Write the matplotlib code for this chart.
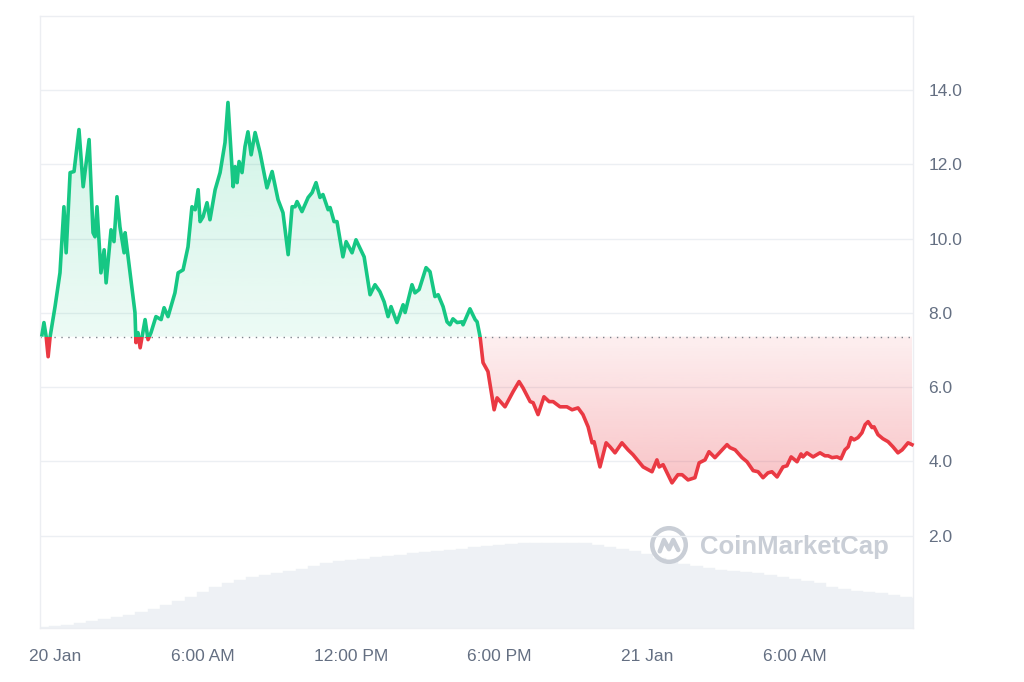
import numpy as np
import matplotlib.pyplot as plt
from matplotlib.path import Path
from matplotlib.patches import PathPatch, Rectangle, Circle

# hours since 20 Jan 00:00
hours = [-0.53, -0.45, -0.36, -0.28, -0.20, 0.00, 0.20, 0.36, 0.45, 0.61,
         0.77, 0.97, 1.14, 1.38, 1.54, 1.62, 1.70, 1.86, 1.99, 2.07,
         2.27, 2.39, 2.51, 2.63, 2.80, 2.84, 3.24, 3.28, 3.36, 3.45,
         3.65, 3.77, 3.89, 4.09, 4.30, 4.42, 4.58, 4.86, 4.99, 5.19,
         5.39, 5.55, 5.68, 5.80, 5.88, 6.00, 6.16, 6.28, 6.49, 6.69,
         6.89, 7.01, 7.22, 7.30, 7.38, 7.46, 7.58, 7.70, 7.82, 7.95,
         8.11, 8.31, 8.59, 8.80, 9.04, 9.24, 9.45, 9.61, 9.73, 9.81,
         10.01, 10.26, 10.42, 10.58, 10.74, 10.86, 11.07, 11.15, 11.31, 11.43,
         11.67, 11.80, 12.04, 12.20, 12.45, 12.53, 12.77, 12.97, 13.17, 13.34,
         13.50, 13.62, 13.86, 14.11, 14.19, 14.47, 14.59, 14.76, 15.04, 15.20,
         15.40, 15.53, 15.73, 15.89, 16.01, 16.13, 16.30, 16.50, 16.54, 16.82,
         17.03, 17.11, 17.23, 17.35, 17.55, 17.80, 17.92, 18.24, 18.57, 18.81,
         18.97, 19.26, 19.38, 19.58, 19.82, 20.03, 20.19, 20.47, 20.75, 20.96,
         21.20, 21.40, 21.61, 21.77, 21.85, 22.09, 22.34, 22.50, 22.70, 22.98,
         23.23, 23.43, 23.84, 24.20, 24.40, 24.49, 24.65, 25.01, 25.25, 25.42,
         25.66, 25.94, 26.11, 26.35, 26.51, 26.75, 27.24, 27.36, 27.57, 27.85,
         28.05, 28.30, 28.50, 28.70, 28.90, 29.06, 29.27, 29.51, 29.67, 29.84,
         30.08, 30.24, 30.32, 30.48, 30.73, 31.01, 31.21, 31.34, 31.50, 31.70,
         31.86, 32.02, 32.15, 32.27, 32.39, 32.55, 32.71, 32.84, 32.96, 33.12,
         33.20, 33.36, 33.56, 33.77, 33.97, 34.17, 34.34, 34.58, 34.74]

price = [7.41, 7.74, 7.36, 6.82, 7.36, 8.17, 9.08, 10.86, 9.62, 11.78,
         11.81, 12.94, 11.40, 12.67, 10.16, 10.05, 10.86, 9.08, 9.70, 8.81,
         10.24, 9.92, 11.13, 10.32, 9.62, 10.16, 8.01, 7.20, 7.47, 7.06,
         7.82, 7.28, 7.47, 7.90, 7.82, 8.14, 7.90, 8.54, 9.08, 9.16,
         9.78, 10.86, 10.78, 11.32, 10.46, 10.59, 10.97, 10.51, 11.32, 11.78,
         12.59, 13.67, 11.40, 11.94, 11.51, 12.08, 11.78, 12.48, 12.88, 12.26,
         12.86, 12.32, 11.37, 11.81, 11.05, 10.70, 9.57, 10.86, 10.86, 11.00,
         10.73, 11.11, 11.24, 11.51, 11.11, 11.19, 10.78, 10.84, 10.46, 10.46,
         9.51, 9.92, 9.62, 9.97, 9.62, 9.51, 8.49, 8.76, 8.57, 8.30,
         7.90, 8.17, 7.74, 8.22, 8.01, 8.76, 8.54, 8.63, 9.22, 9.11,
         8.44, 8.49, 8.17, 7.76, 7.68, 7.84, 7.74, 7.76, 7.68, 8.11,
         7.82, 7.76, 7.36, 6.66, 6.42, 5.39, 5.71, 5.47, 5.88, 6.15,
         5.98, 5.61, 5.58, 5.26, 5.74, 5.61, 5.61, 5.47, 5.47, 5.39,
         5.44, 5.26, 4.93, 4.50, 4.53, 3.85, 4.50, 4.39, 4.23, 4.50,
         4.31, 4.18, 3.85, 3.72, 4.04, 3.85, 3.91, 3.42, 3.64, 3.64,
         3.50, 3.56, 3.96, 4.04, 4.26, 4.10, 4.45, 4.37, 4.31, 4.10,
         3.99, 3.75, 3.72, 3.56, 3.69, 3.72, 3.58, 3.85, 3.88, 4.12,
         3.99, 4.20, 4.12, 4.23, 4.12, 4.23, 4.15, 4.15, 4.10, 4.12,
         4.07, 4.31, 4.39, 4.64, 4.58, 4.64, 4.77, 4.99, 5.07, 4.91,
         4.93, 4.72, 4.61, 4.53, 4.39, 4.23, 4.31, 4.50, 4.45]

base_price = 7.36

# half-hourly volume (relative units)
vol_hours = [-0.5, 0.0, 0.5, 1.0, 1.5, 2.0, 2.5, 3.0, 3.5, 4.0, 4.5, 5.0,
             5.5, 6.0, 6.5, 7.0, 7.5, 8.0, 8.5, 9.0, 9.5, 10.0, 10.5, 11.0,
             11.5, 12.0, 12.5, 13.0, 13.5, 14.0, 14.5, 15.0, 15.5, 16.0, 16.5, 17.0,
             17.5, 18.0, 18.5, 19.0, 19.5, 20.0, 20.5, 21.0, 21.5, 22.0, 22.5, 23.0,
             23.5, 24.0, 24.5, 25.0, 25.5, 26.0, 26.5, 27.0, 27.5, 28.0, 28.5, 29.0,
             29.5, 30.0, 30.5, 31.0, 31.5, 32.0, 32.5, 33.0, 33.5, 34.0, 34.5, 35.0]
volume = [1, 2, 3, 5, 7, 9, 11, 13, 16, 19, 23, 27,
          31, 36, 41, 45, 48, 51, 53, 55, 57, 59, 62, 65,
          67, 68, 69, 71, 72, 73, 75, 76, 77, 78, 79, 81,
          82, 83, 84, 85, 85, 85, 85, 85, 85, 83, 81, 79,
          77, 74, 70, 67, 64, 62, 60, 58, 57, 56, 55, 53,
          51, 49, 47, 45, 41, 39, 37, 36, 35, 33, 31, 30]

tick_hours = [0, 6, 12, 18, 24, 30]
tick_labels = ['20 Jan', '6:00 AM', '12:00 PM', '6:00 PM', '21 Jan', '6:00 AM']
y_ticks = [2, 4, 6, 8, 10, 12, 14]

GREEN = '#16c784'
RED = '#ea3943'
TXT = '#646f82'


def gradient(color, a_top, a_bottom, n=256):
    rgba = np.zeros((n, 1, 4))
    c = plt.matplotlib.colors.to_rgb(color)
    rgba[:, 0, 0] = c[0]
    rgba[:, 0, 1] = c[1]
    rgba[:, 0, 2] = c[2]
    rgba[:, 0, 3] = np.linspace(a_top, a_bottom, n)
    return rgba


def main():
    plt.rcParams['font.family'] = ['Liberation Sans', 'DejaVu Sans']
    fig = plt.figure(figsize=(10.24, 6.82), dpi=100)
    ax = fig.add_axes([40/1024, 1-628/682, 873/1024, 612/682])
    axv = ax.twinx()
    ax.set_zorder(axv.get_zorder() + 1)
    ax.patch.set_visible(False)

    # volume
    axv.bar(vol_hours, volume, width=0.5, color='#eef1f5', edgecolor='#eef1f5', linewidth=0.3)
    axv.set_ylim(0, 612)
    axv.set_yticks([])
    for s in axv.spines.values():
        s.set_visible(False)

    t = np.array(hours)
    p = np.array(price)
    x0, x1 = -0.61, 34.78

    # gradient fills
    g = ax.fill_between(t, p, base_price, where=p >= base_price, interpolate=True,
                        facecolor='none', edgecolor='none')
    r = ax.fill_between(t, p, base_price, where=p <= base_price, interpolate=True,
                        facecolor='none', edgecolor='none')
    gpatch = PathPatch(Path.make_compound_path(*g.get_paths()), transform=ax.transData,
                       facecolor='none', edgecolor='none')
    rpatch = PathPatch(Path.make_compound_path(*r.get_paths()), transform=ax.transData,
                       facecolor='none', edgecolor='none')
    ax.add_patch(gpatch)
    ax.add_patch(rpatch)
    im1 = ax.imshow(gradient(GREEN, 0.20, 0.08), extent=[x0, x1, base_price, p.max()],
                    aspect='auto', zorder=1)
    im1.set_clip_path(gpatch)
    im2 = ax.imshow(gradient(RED, 0.08, 0.30), extent=[x0, x1, p.min(), base_price],
                    aspect='auto', zorder=1)
    im2.set_clip_path(rpatch)
    ax.set_xlim(x0, x1)
    ax.set_ylim(-0.49, 16.0)
    axv.set_xlim(x0, x1)

    # line, split at the baseline
    up = Rectangle((x0 - 1, base_price), x1 - x0 + 2, 30, transform=ax.transData,
                   facecolor='none', edgecolor='none')
    dn = Rectangle((x0 - 1, base_price - 30), x1 - x0 + 2, 30, transform=ax.transData,
                   facecolor='none', edgecolor='none')
    ax.add_patch(up)
    ax.add_patch(dn)
    l1, = ax.plot(t, p, color=GREEN, lw=2.6, zorder=3, solid_joinstyle='round')
    l1.set_clip_path(up)
    l2, = ax.plot(t, p, color=RED, lw=2.6, zorder=3, solid_joinstyle='round')
    l2.set_clip_path(dn)

    ax.axhline(base_price, color='#7d838c', lw=1.0, linestyle=(0, (1, 4)), zorder=2)

    # axes styling
    ax.set_yticks(y_ticks, ['%.1f' % v for v in y_ticks])
    ax.yaxis.tick_right()
    ax.grid(axis='y', color='#eceff3', lw=1.0)
    ax.set_axisbelow(True)
    ax.set_xticks(tick_hours, tick_labels)
    ax.tick_params(axis='y', length=0, pad=11, labelsize=12.5, labelcolor=TXT)
    ax.tick_params(axis='x', length=0, pad=15, labelsize=12.5, labelcolor=TXT)
    for s in ax.spines.values():
        s.set_color('#eceef2')
        s.set_linewidth(1.0)

    # watermark
    wm = '#c9ced6'
    fig.text(700/1024, 1 - 547/682, 'CoinMarketCap', fontsize=18.5, fontweight='bold',
             color=wm, va='center', ha='left')
    lax = fig.add_axes([648/1024, 1 - 566/682, 42/1024, 42/682])
    lax.set_xlim(0, 1)
    lax.set_ylim(0, 1)
    lax.axis('off')
    lax.add_patch(Circle((0.5, 0.5), 0.4, fill=False, lw=3.2, edgecolor=wm))
    lax.plot([0.28, 0.38, 0.5, 0.6, 0.72], [0.35, 0.62, 0.4, 0.62, 0.38],
             color=wm, lw=3.2, solid_capstyle='round', solid_joinstyle='round')

    plt.savefig('out.png', dpi=100)


if __name__ == "__main__":
    main()
